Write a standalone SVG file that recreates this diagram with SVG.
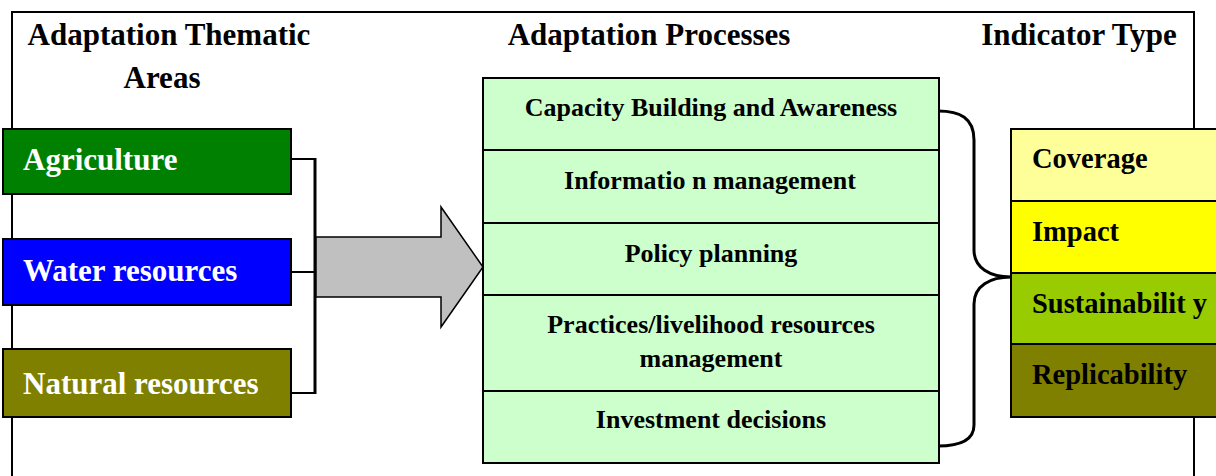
<svg xmlns="http://www.w3.org/2000/svg" width="1216" height="476" viewBox="0 0 1216 476">
  <style>
    text { font-family: "Liberation Serif", "Times New Roman", serif; font-weight: bold; }
    .head { font-size: 31px; fill: #000; }
    .area { font-size: 31px; fill: #fff; }
    .proc { font-size: 26px; fill: #000; text-anchor: middle; }
    .ind { font-size: 28.5px; fill: #000; }
    .box { stroke: #000; stroke-width: 2; }
    .wire { fill: none; stroke: #000; stroke-width: 2; }
  </style>

  <rect width="1216" height="476" fill="#fff"/>
  <!-- outer frame, open at the bottom edge -->
  <rect x="12" y="12" width="1182" height="490" fill="none" stroke="#000" stroke-width="2"/>

  <!-- column headings -->
  <g id="headings">
    <text class="head" x="169" y="45" text-anchor="middle">Adaptation Thematic</text>
    <text class="head" x="162" y="88" text-anchor="middle">Areas</text>
    <text class="head" x="649" y="45" text-anchor="middle">Adaptation Processes</text>
    <text class="head" x="1079" y="45" text-anchor="middle">Indicator Type</text>
  </g>

  <!-- thematic areas -->
  <g id="agriculture">
    <rect class="box" x="3" y="129" width="288" height="65" fill="#008000"/>
    <text class="area" x="23" y="170">Agriculture</text>
  </g>
  <g id="water-resources">
    <rect class="box" x="3" y="239" width="288" height="66" fill="#0000ff"/>
    <text class="area" x="23" y="281">Water resources</text>
  </g>
  <g id="natural-resources">
    <rect class="box" x="3" y="349" width="288" height="68" fill="#808000"/>
    <text class="area" x="23" y="394">Natural resources</text>
  </g>

  <!-- connectors -->
  <g id="connectors">
    <path class="wire" d="M291 159 H315 M291 272 H315 M291 393 H315"/>
    <line x1="315" y1="158" x2="315" y2="394" stroke="#000" stroke-width="3"/>
    <path d="M316 237 H441 V207 L483 267 L441 327 V297 H316 Z" fill="#c0c0c0" stroke="#000" stroke-width="1.5" stroke-linejoin="miter"/>
    <path d="M938 111 C960 111 974 118 974 140 V250 C974 268 990 277 1011 277 C990 277 974 286 974 304 V425 C974 440 960 446 938 446" fill="none" stroke="#000" stroke-width="3"/>
  </g>

  <!-- adaptation processes -->
  <g id="processes">
    <rect class="box" x="483" y="78" width="456" height="385" fill="#ccffcc"/>
    <path class="wire" d="M483 150 H939 M483 223 H939 M483 295 H939 M483 391 H939"/>
  </g>
  <g id="capacity-building">
    <text class="proc" x="711" y="116">Capacity Building and Awareness</text>
  </g>
  <g id="information-management">
    <text class="proc" x="710" y="189">Informatio n management</text>
  </g>
  <g id="policy-planning">
    <text class="proc" x="711" y="262">Policy planning</text>
  </g>
  <g id="practices-livelihood">
    <text class="proc" x="711" y="333">Practices/livelihood resources</text>
    <text class="proc" x="711" y="367">management</text>
  </g>
  <g id="investment-decisions">
    <text class="proc" x="711" y="428">Investment decisions</text>
  </g>

  <!-- indicator types -->
  <g id="coverage">
    <rect class="box" x="1011" y="129" width="210" height="72" fill="#ffff99"/>
    <text class="ind" x="1032" y="168">Coverage</text>
  </g>
  <g id="impact">
    <rect class="box" x="1011" y="201" width="210" height="72" fill="#ffff00"/>
    <text class="ind" x="1032" y="241">Impact</text>
  </g>
  <g id="sustainability">
    <rect class="box" x="1011" y="273" width="210" height="71" fill="#99cc00"/>
    <text class="ind" x="1032" y="313">Sustainabilit y</text>
  </g>
  <g id="replicability">
    <rect class="box" x="1011" y="344" width="210" height="73" fill="#808000"/>
    <text class="ind" x="1032" y="384">Replicability</text>
  </g>
</svg>
